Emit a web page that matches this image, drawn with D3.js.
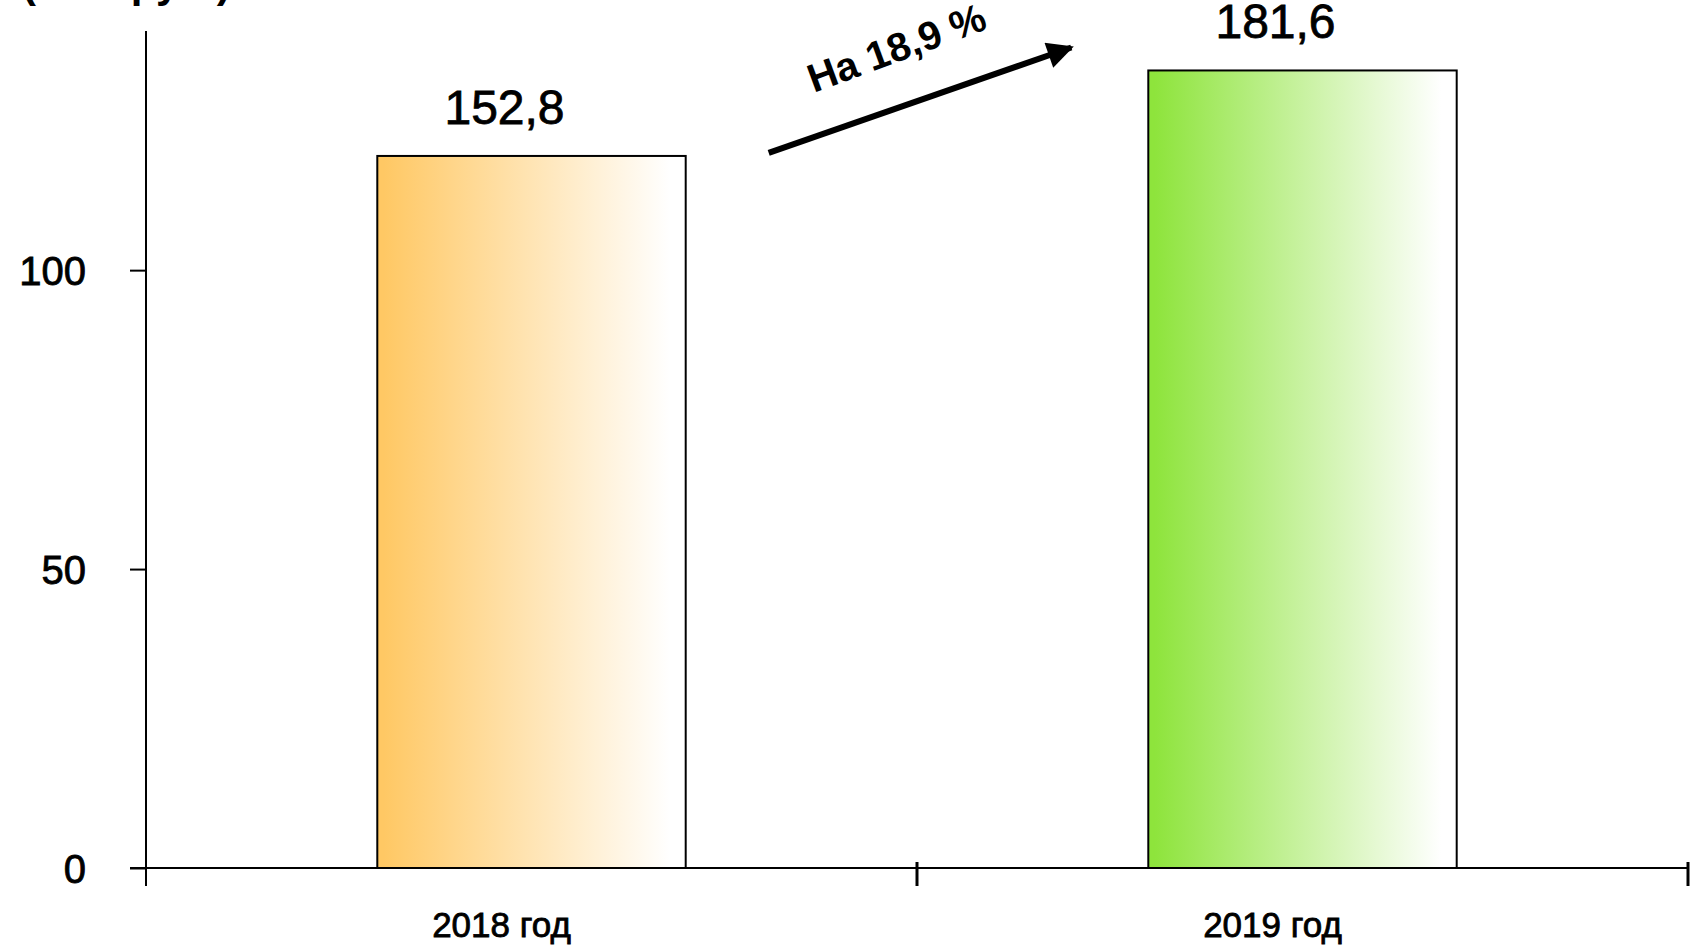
<!DOCTYPE html>
<html>
<head>
<meta charset="utf-8">
<script src="https://cdn.jsdelivr.net/npm/d3@7"></script>
<style>
  body { margin: 0; background: #fff; }
  text { font-family: "Liberation Sans", Arial, sans-serif; fill: #000; }
  .heavy { stroke: #000; stroke-width: 0.8px; }
</style>
</head>
<body>
<div id="chart"></div>
<script>
// Data
const categories = ['2018 год', '2019 год']
const barValues = [119.1, 133.4]          // drawn bar heights
const valueLabels = ['152,8', '181,6']    // printed labels
const barColors = ['#ffc864', '#8ee43c']
const yTicks = [0, 50, 100]
const unitLabel = '(млн руб.)'
const growthLabel = 'На 18,9 %'

// Our canvas
const width = 1691,
  height = 951,
  plotLeft = 146,
  plotRight = 1688,
  plotTop = 31,
  plotBottom = 868

let svg = d3.select('#chart')
  .append('svg')
  .attr('width', width)
  .attr('height', height)

let defs = svg.append('defs')
barColors.forEach((c, i) => {
  let g = defs.append('linearGradient')
    .attr('id', 'grad' + i)
    .attr('x1', '0%').attr('x2', '100%')
    .attr('y1', '0%').attr('y2', '0%')
  g.append('stop').attr('offset', '2%').attr('stop-color', c)
  g.append('stop').attr('offset', '95%').attr('stop-color', '#fff')
})
defs.append('marker')
  .attr('id', 'arrow')
  .attr('viewBox', '0 0 10 10')
  .attr('refX', 9).attr('refY', 5)
  .attr('markerWidth', 5).attr('markerHeight', 4.4)
  .attr('markerUnits', 'strokeWidth')
  .attr('orient', 'auto')
  .append('path')
  .attr('d', 'M0,0 L10,5 L0,10 Z')

// scales
const x = d3.scaleBand()
  .domain(categories)
  .range([plotLeft, plotRight])

const y = d3.scaleLinear()
  .domain([0, 140])
  .range([plotBottom, plotTop])

// unit label (cut off at the top)
svg.append('text')
  .attr('x', 22)
  .attr('y', -3)
  .style('font-size', '42px')
  .style('font-weight', 'bold')
  .text(unitLabel)

// y axis
let yAxis = svg.append('g')
  .attr('transform', `translate(${plotLeft},0)`)
  .call(d3.axisLeft(y).tickValues(yTicks).tickSize(16).tickSizeOuter(0).tickPadding(0))
yAxis.select('.domain').remove()
yAxis.selectAll('line').attr('stroke', '#000').attr('stroke-width', 2)
yAxis.selectAll('text')
  .attr('class', 'heavy')
  .attr('x', -60)
  .attr('dy', '0.36em')
  .style('font-size', '40px')
  .style('font-family', '"Liberation Sans", Arial, sans-serif')

svg.append('line')
  .attr('x1', plotLeft).attr('x2', plotLeft)
  .attr('y1', plotTop).attr('y2', plotBottom + 18)
  .attr('stroke', '#000').attr('stroke-width', 2)

// x axis
svg.append('line')
  .attr('x1', plotLeft - 16).attr('x2', plotRight)
  .attr('y1', y(0)).attr('y2', y(0))
  .attr('stroke', '#000').attr('stroke-width', 2)

let bounds = categories.map(c => x(c)).concat([x(categories[categories.length - 1]) + x.bandwidth()])
svg.selectAll('.xtick')
  .data(bounds.slice(1))
  .enter()
  .append('line')
  .attr('class', 'xtick')
  .attr('x1', d => d).attr('x2', d => d)
  .attr('y1', y(0) - 6).attr('y2', y(0) + 18)
  .attr('stroke', '#000').attr('stroke-width', 3)

svg.selectAll('.xlabel')
  .data(categories)
  .enter()
  .append('text')
  .attr('class', 'xlabel heavy')
  .attr('x', d => x(d) + x.bandwidth() / 2 - 30)
  .attr('y', 937)
  .attr('text-anchor', 'middle')
  .style('font-size', '35px')
  .text(d => d)

// bars
const barW = x.bandwidth() * 0.4
svg.selectAll('rect.bar')
  .data(barValues)
  .enter()
  .append('rect')
  .attr('class', 'bar')
  .attr('x', (d, i) => x(categories[i]) + (x.bandwidth() - barW) / 2)
  .attr('y', d => y(d))
  .attr('width', barW)
  .attr('height', d => y(0) - y(d))
  .attr('fill', (d, i) => `url(#grad${i})`)
  .attr('stroke', '#000')
  .attr('stroke-width', 2)

svg.selectAll('.vlabel')
  .data(barValues)
  .enter()
  .append('text')
  .attr('class', 'vlabel heavy')
  .attr('x', (d, i) => x(categories[i]) + x.bandwidth() / 2 - 27)
  .attr('y', d => y(d) - 32)
  .attr('text-anchor', 'middle')
  .style('font-size', '48px')
  .text((d, i) => valueLabels[i])

// growth arrow
const x0 = x(categories[0]) + x.bandwidth() / 2 + barW / 2 + 83
const x1 = x(categories[1]) + x.bandwidth() / 2 - barW / 2 - 77
const y0 = y(barValues[0]) - 3
const y1 = y(barValues[1]) - 23
svg.append('line')
  .attr('x1', x0).attr('y1', y0)
  .attr('x2', x1).attr('y2', y1)
  .attr('stroke', '#000')
  .attr('stroke-width', 6)
  .attr('marker-end', 'url(#arrow)')

const ang = Math.atan2(y1 - y0, x1 - x0) * 180 / Math.PI
svg.append('text')
  .attr('transform', `translate(${x0 + 45},${y0 - 60}) rotate(${ang - 1})`)
  .style('font-size', '40px')
  .style('font-weight', 'bold')
  .text(growthLabel)
</script>
</body>
</html>
